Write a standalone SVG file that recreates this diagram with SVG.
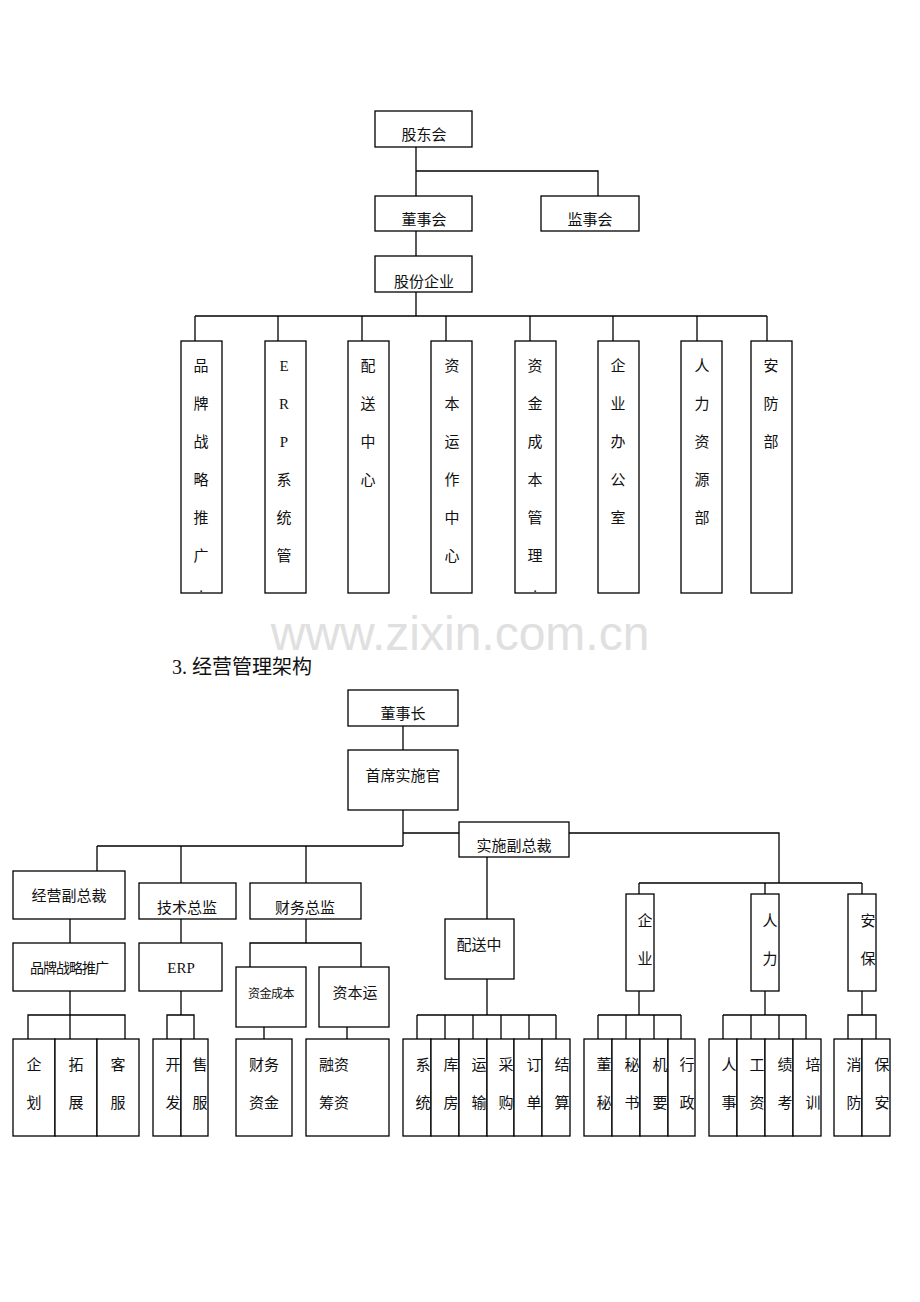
<svg xmlns="http://www.w3.org/2000/svg" width="920" height="1302" viewBox="0 0 920 1302">
<style>
rect{fill:#fff;stroke:#000;stroke-width:1.3}
.c line,.c polyline{stroke:#000;stroke-width:1.3;fill:none}
text{font-family:"Liberation Serif","Noto Sans CJK SC",serif;font-size:15px;fill:#111}
.m{text-anchor:middle}
</style>
<rect x="0" y="0" width="920" height="1302" style="stroke:none"/>
<text x="460" y="650" class="m" style="font-family:'Liberation Sans',sans-serif;font-size:48px;fill:#e0e0e0">www.zixin.com.cn</text>
<g class="c">
<line x1="416" y1="147" x2="416" y2="196"/><polyline points="416,171 598,171 598,196"/>
<line x1="416" y1="231" x2="416" y2="256"/><line x1="416" y1="292" x2="416" y2="316"/>
<line x1="195" y1="316" x2="767" y2="316"/>
<line x1="195" y1="316" x2="195" y2="341"/><line x1="278" y1="316" x2="278" y2="341"/><line x1="362" y1="316" x2="362" y2="341"/><line x1="446" y1="316" x2="446" y2="341"/><line x1="530" y1="316" x2="530" y2="341"/><line x1="613" y1="316" x2="613" y2="341"/><line x1="697" y1="316" x2="697" y2="341"/><line x1="767" y1="316" x2="767" y2="341"/>
<line x1="403" y1="726" x2="403" y2="750"/><line x1="403" y1="810" x2="403" y2="846"/>
<line x1="403" y1="833" x2="459" y2="833"/><polyline points="569,833 779,833 779,883"/>
<line x1="97" y1="846" x2="403" y2="846"/>
<line x1="97" y1="846" x2="97" y2="871"/><line x1="181" y1="846" x2="181" y2="883"/><line x1="306" y1="846" x2="306" y2="883"/>
<line x1="70" y1="919" x2="70" y2="943"/><line x1="70" y1="991" x2="70" y2="1015"/>
<polyline points="28,1039 28,1015 125,1015 125,1039"/><line x1="70" y1="1015" x2="70" y2="1039"/>
<line x1="181" y1="919" x2="181" y2="943"/><line x1="181" y1="991" x2="181" y2="1015"/>
<polyline points="167,1039 167,1015 194,1015 194,1039"/>
<line x1="306" y1="919" x2="306" y2="943"/><polyline points="250,967 250,943 361,943 361,967"/>
<line x1="264" y1="1027" x2="264" y2="1039"/><line x1="347" y1="1027" x2="347" y2="1039"/>
<line x1="487" y1="857" x2="487" y2="919"/><line x1="487" y1="979" x2="487" y2="1015"/>
<line x1="417" y1="1015" x2="556" y2="1015"/>
<line x1="417" y1="1015" x2="417" y2="1039"/><line x1="445" y1="1015" x2="445" y2="1039"/><line x1="473" y1="1015" x2="473" y2="1039"/><line x1="501" y1="1015" x2="501" y2="1039"/><line x1="529" y1="1015" x2="529" y2="1039"/><line x1="556" y1="1015" x2="556" y2="1039"/>
<line x1="639" y1="883" x2="862" y2="883"/>
<line x1="639" y1="883" x2="639" y2="894"/><line x1="765" y1="883" x2="765" y2="894"/><line x1="862" y1="883" x2="862" y2="894"/>
<line x1="639" y1="991" x2="639" y2="1015"/><line x1="598" y1="1015" x2="681" y2="1015"/>
<line x1="598" y1="1015" x2="598" y2="1039"/><line x1="626" y1="1015" x2="626" y2="1039"/><line x1="654" y1="1015" x2="654" y2="1039"/><line x1="681" y1="1015" x2="681" y2="1039"/>
<line x1="765" y1="991" x2="765" y2="1015"/><line x1="723" y1="1015" x2="806" y2="1015"/>
<line x1="723" y1="1015" x2="723" y2="1039"/><line x1="751" y1="1015" x2="751" y2="1039"/><line x1="779" y1="1015" x2="779" y2="1039"/><line x1="806" y1="1015" x2="806" y2="1039"/>
<line x1="862" y1="991" x2="862" y2="1015"/><polyline points="848,1039 848,1015 876,1015 876,1039"/>
</g>
<g id="gdh"><rect x="375" y="111" width="97" height="36"/><text x="424" y="140" class="m">股东会</text></g>
<g id="dsh"><rect x="375" y="196" width="97" height="35"/><text x="424" y="225" class="m">董事会</text></g>
<g id="jsh"><rect x="541" y="196" width="98" height="35"/><text x="590" y="225" class="m">监事会</text></g>
<g id="gfqy"><rect x="375" y="256" width="97" height="36"/><text x="424" y="287" class="m">股份企业</text></g>
<g id="c1"><rect x="181" y="341" width="41" height="252"/><text x="201" class="m"><tspan x="201" y="371">品</tspan><tspan x="201" y="409">牌</tspan><tspan x="201" y="447">战</tspan><tspan x="201" y="485">略</tspan><tspan x="201" y="523">推</tspan><tspan x="201" y="561">广</tspan><tspan x="201" y="592">.</tspan></text></g>
<g id="c2"><rect x="265" y="341" width="41" height="252"/><text class="m"><tspan x="284" y="371">E</tspan><tspan x="284" y="409">R</tspan><tspan x="284" y="447">P</tspan><tspan x="284" y="485">系</tspan><tspan x="284" y="523">统</tspan><tspan x="284" y="561">管</tspan></text></g>
<g id="c3"><rect x="348" y="341" width="41" height="252"/><text class="m"><tspan x="368" y="371">配</tspan><tspan x="368" y="409">送</tspan><tspan x="368" y="447">中</tspan><tspan x="368" y="485">心</tspan></text></g>
<g id="c4"><rect x="431" y="341" width="41" height="252"/><text class="m"><tspan x="452" y="371">资</tspan><tspan x="452" y="409">本</tspan><tspan x="452" y="447">运</tspan><tspan x="452" y="485">作</tspan><tspan x="452" y="523">中</tspan><tspan x="452" y="561">心</tspan></text></g>
<g id="c5"><rect x="515" y="341" width="41" height="252"/><text class="m"><tspan x="535" y="371">资</tspan><tspan x="535" y="409">金</tspan><tspan x="535" y="447">成</tspan><tspan x="535" y="485">本</tspan><tspan x="535" y="523">管</tspan><tspan x="535" y="561">理</tspan><tspan x="535" y="592">.</tspan></text></g>
<g id="c6"><rect x="598" y="341" width="41" height="252"/><text class="m"><tspan x="618" y="371">企</tspan><tspan x="618" y="409">业</tspan><tspan x="618" y="447">办</tspan><tspan x="618" y="485">公</tspan><tspan x="618" y="523">室</tspan></text></g>
<g id="c7"><rect x="681" y="341" width="41" height="252"/><text class="m"><tspan x="702" y="371">人</tspan><tspan x="702" y="409">力</tspan><tspan x="702" y="447">资</tspan><tspan x="702" y="485">源</tspan><tspan x="702" y="523">部</tspan></text></g>
<g id="c8"><rect x="751" y="341" width="41" height="252"/><text class="m"><tspan x="771" y="371">安</tspan><tspan x="771" y="409">防</tspan><tspan x="771" y="447">部</tspan></text></g>
<text x="172" y="674" style="font-size:20px">3. 经营管理架构</text>
<g id="dsz"><rect x="348" y="690" width="110" height="36"/><text x="403" y="719" class="m">董事长</text></g>
<g id="sxsgg"><rect x="348" y="750" width="110" height="60"/><text x="403" y="781" class="m">首席实施官</text></g>
<g id="ssfzc"><rect x="459" y="822" width="110" height="35"/><text x="514" y="851" class="m">实施副总裁</text></g>
<g id="jyfzc"><rect x="13" y="871" width="112" height="48"/><text x="69" y="901" class="m">经营副总裁</text></g>
<g id="jszj"><rect x="139" y="883" width="97" height="36"/><text x="187" y="913" class="m">技术总监</text></g>
<g id="cwzj"><rect x="250" y="883" width="111" height="36"/><text x="305" y="913" class="m">财务总监</text></g>
<g id="ppzl"><rect x="13" y="943" width="112" height="48"/><text x="69" y="973" class="m" style="font-size:14px;letter-spacing:-1px">品牌战略推广</text></g>
<g id="erp"><rect x="139" y="943" width="83" height="48"/><text x="181" y="973" class="m">ERP</text></g>
<g id="zjcb"><rect x="236" y="967" width="70" height="60"/><text x="271" y="998" class="m" style="font-size:12px;letter-spacing:-0.5px">资金成本</text></g>
<g id="zby"><rect x="319" y="967" width="70" height="60"/><text x="355" y="998" class="m">资本运</text></g>
<g id="psz"><rect x="445" y="919" width="69" height="60"/><text x="479" y="950" class="m">配送中</text></g>
<g id="qy"><rect x="626" y="894" width="28" height="97"/><text class="m"><tspan x="645" y="926">企</tspan><tspan x="645" y="964">业</tspan></text></g>
<g id="rl"><rect x="751" y="894" width="28" height="97"/><text class="m"><tspan x="770" y="926">人</tspan><tspan x="770" y="964">力</tspan></text></g>
<g id="ab"><rect x="848" y="894" width="28" height="97"/><text class="m"><tspan x="868" y="926">安</tspan><tspan x="868" y="964">保</tspan></text></g>
<g id="b1"><rect x="13" y="1039" width="42" height="97"/><text class="m"><tspan x="34" y="1070">企</tspan><tspan x="34" y="1108">划</tspan></text></g>
<g id="b2"><rect x="55" y="1039" width="42" height="97"/><text class="m"><tspan x="76" y="1070">拓</tspan><tspan x="76" y="1108">展</tspan></text></g>
<g id="b3"><rect x="97" y="1039" width="42" height="97"/><text class="m"><tspan x="118" y="1070">客</tspan><tspan x="118" y="1108">服</tspan></text></g>
<g id="b4"><rect x="153" y="1039" width="28" height="97"/><text class="m"><tspan x="173" y="1070">开</tspan><tspan x="173" y="1108">发</tspan></text></g>
<g id="b5"><rect x="181" y="1039" width="27" height="97"/><text class="m"><tspan x="200" y="1070">售</tspan><tspan x="200" y="1108">服</tspan></text></g>
<g id="b6"><rect x="236" y="1039" width="56" height="97"/><text><tspan x="249" y="1070">财务</tspan><tspan x="249" y="1108">资金</tspan></text></g>
<g id="b7"><rect x="306" y="1039" width="83" height="97"/><text><tspan x="319" y="1070">融资</tspan><tspan x="319" y="1108">筹资</tspan></text></g>
<g id="d1"><rect x="403" y="1039" width="28" height="97"/><text class="m"><tspan x="423" y="1070">系</tspan><tspan x="423" y="1108">统</tspan></text></g>
<g id="d2"><rect x="431" y="1039" width="28" height="97"/><text class="m"><tspan x="451" y="1070">库</tspan><tspan x="451" y="1108">房</tspan></text></g>
<g id="d3"><rect x="459" y="1039" width="28" height="97"/><text class="m"><tspan x="479" y="1070">运</tspan><tspan x="479" y="1108">输</tspan></text></g>
<g id="d4"><rect x="487" y="1039" width="27" height="97"/><text class="m"><tspan x="506" y="1070">采</tspan><tspan x="506" y="1108">购</tspan></text></g>
<g id="d5"><rect x="514" y="1039" width="28" height="97"/><text class="m"><tspan x="534" y="1070">订</tspan><tspan x="534" y="1108">单</tspan></text></g>
<g id="d6"><rect x="542" y="1039" width="28" height="97"/><text class="m"><tspan x="562" y="1070">结</tspan><tspan x="562" y="1108">算</tspan></text></g>
<g id="e1"><rect x="584" y="1039" width="28" height="97"/><text class="m"><tspan x="604" y="1070">董</tspan><tspan x="604" y="1108">秘</tspan></text></g>
<g id="e2"><rect x="612" y="1039" width="28" height="97"/><text class="m"><tspan x="632" y="1070">秘</tspan><tspan x="632" y="1108">书</tspan></text></g>
<g id="e3"><rect x="640" y="1039" width="28" height="97"/><text class="m"><tspan x="660" y="1070">机</tspan><tspan x="660" y="1108">要</tspan></text></g>
<g id="e4"><rect x="668" y="1039" width="27" height="97"/><text class="m"><tspan x="687" y="1070">行</tspan><tspan x="687" y="1108">政</tspan></text></g>
<g id="f1"><rect x="709" y="1039" width="28" height="97"/><text class="m"><tspan x="729" y="1070">人</tspan><tspan x="729" y="1108">事</tspan></text></g>
<g id="f2"><rect x="737" y="1039" width="28" height="97"/><text class="m"><tspan x="757" y="1070">工</tspan><tspan x="757" y="1108">资</tspan></text></g>
<g id="f3"><rect x="765" y="1039" width="28" height="97"/><text class="m"><tspan x="785" y="1070">绩</tspan><tspan x="785" y="1108">考</tspan></text></g>
<g id="f4"><rect x="793" y="1039" width="28" height="97"/><text class="m"><tspan x="813" y="1070">培</tspan><tspan x="813" y="1108">训</tspan></text></g>
<g id="g1"><rect x="834" y="1039" width="28" height="97"/><text class="m"><tspan x="854" y="1070">消</tspan><tspan x="854" y="1108">防</tspan></text></g>
<g id="g2"><rect x="862" y="1039" width="28" height="97"/><text class="m"><tspan x="882" y="1070">保</tspan><tspan x="882" y="1108">安</tspan></text></g>
</svg>
